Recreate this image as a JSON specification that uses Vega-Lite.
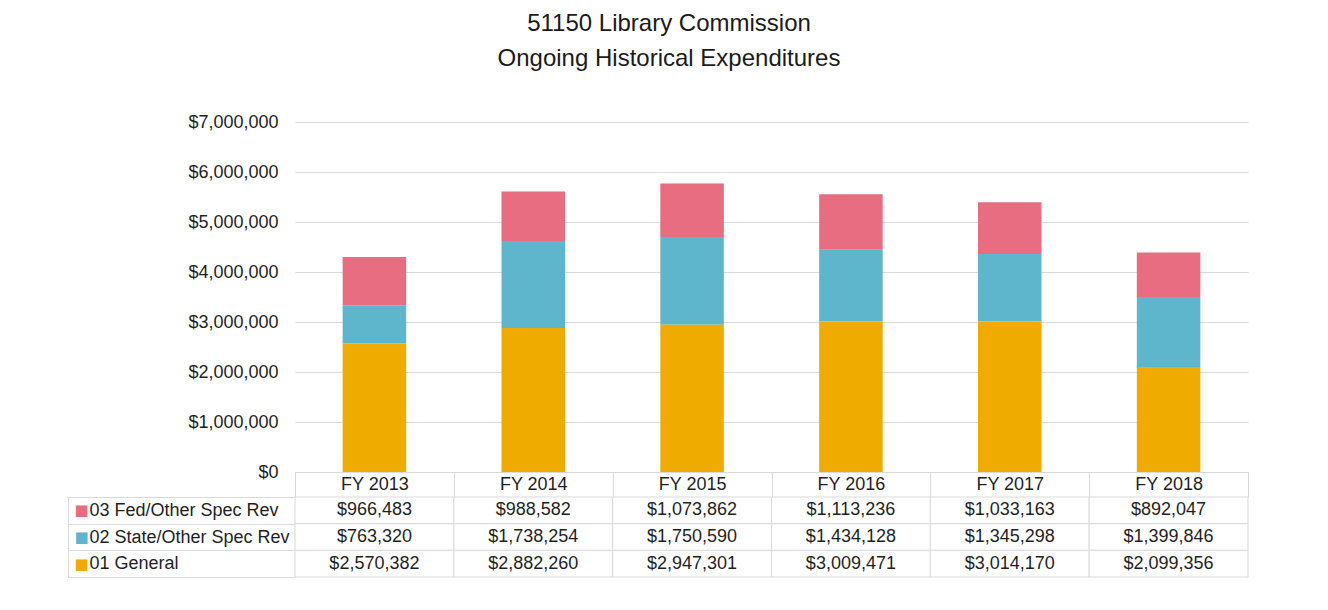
{
  "$schema": "https://vega.github.io/schema/vega-lite/v6.json",
  "background": "white",
  "padding": {"left": 67, "top": 12, "right": 5, "bottom": 5},
  "config": {
    "font": "Liberation Sans",
    "view": {"stroke": null},
    "axis": {"labelColor": "#1f1f1f", "labelFont": "Liberation Sans"}
  },
  "title": {
    "text": ["51150 Library Commission", "Ongoing Historical Expenditures"],
    "fontSize": 24,
    "fontWeight": "normal",
    "lineHeight": 35,
    "offset": 42,
    "dx": 11,
    "color": "#1a1a1a",
    "anchor": "middle"
  },
  "data": {
    "values": [
      {"year": "FY 2013", "series": "03 Fed/Other Spec Rev", "amount": 966483},
      {"year": "FY 2013", "series": "02 State/Other Spec Rev", "amount": 763320},
      {"year": "FY 2013", "series": "01 General", "amount": 2570382},
      {"year": "FY 2014", "series": "03 Fed/Other Spec Rev", "amount": 988582},
      {"year": "FY 2014", "series": "02 State/Other Spec Rev", "amount": 1738254},
      {"year": "FY 2014", "series": "01 General", "amount": 2882260},
      {"year": "FY 2015", "series": "03 Fed/Other Spec Rev", "amount": 1073862},
      {"year": "FY 2015", "series": "02 State/Other Spec Rev", "amount": 1750590},
      {"year": "FY 2015", "series": "01 General", "amount": 2947301},
      {"year": "FY 2016", "series": "03 Fed/Other Spec Rev", "amount": 1113236},
      {"year": "FY 2016", "series": "02 State/Other Spec Rev", "amount": 1434128},
      {"year": "FY 2016", "series": "01 General", "amount": 3009471},
      {"year": "FY 2017", "series": "03 Fed/Other Spec Rev", "amount": 1033163},
      {"year": "FY 2017", "series": "02 State/Other Spec Rev", "amount": 1345298},
      {"year": "FY 2017", "series": "01 General", "amount": 3014170},
      {"year": "FY 2018", "series": "03 Fed/Other Spec Rev", "amount": 892047},
      {"year": "FY 2018", "series": "02 State/Other Spec Rev", "amount": 1399846},
      {"year": "FY 2018", "series": "01 General", "amount": 2099356}
    ]
  },
  "spacing": 25,
  "bounds": "flush",
  "vconcat": [
    {
      "width": 953,
      "height": 350,
      "mark": {"type": "bar", "width": {"band": 0.4}},
      "encoding": {
        "x": {
          "field": "year",
          "type": "nominal",
          "scale": {"paddingInner": 0, "paddingOuter": 0},
          "axis": {
            "title": null,
            "labelAngle": 0,
            "tickBand": "extent",
            "tickSize": 25,
            "tickColor": "#d9d9d9",
            "domainColor": "#d9d9d9",
            "labelPadding": -12.5,
            "labelBaseline": "middle",
            "labelFontSize": 18
          }
        },
        "y": {
          "field": "amount",
          "type": "quantitative",
          "stack": "zero",
          "scale": {"domain": [0, 7000000]},
          "axis": {
            "title": null,
            "values": [0, 1000000, 2000000, 3000000, 4000000, 5000000, 6000000, 7000000],
            "format": "$,.0f",
            "grid": true,
            "gridColor": "#d9d9d9",
            "ticks": false,
            "domain": false,
            "labelPadding": 17,
            "labelFontSize": 18
          }
        },
        "color": {
          "field": "series",
          "type": "nominal",
          "scale": {
            "domain": ["01 General", "02 State/Other Spec Rev", "03 Fed/Other Spec Rev"],
            "range": ["#F0AB00", "#5EB6CD", "#E96D80"]
          },
          "legend": null
        },
        "order": {"field": "series", "type": "nominal", "sort": "ascending"}
      }
    },
    {
      "width": 953,
      "height": 80,
      "resolve": {"axis": {"y": "independent"}},
      "layer": [
        {
          "mark": {"type": "rect", "fill": "white", "stroke": "#d9d9d9", "strokeWidth": 1},
          "encoding": {
            "x": {
              "field": "year",
              "type": "nominal",
              "scale": {"paddingInner": 0, "paddingOuter": 0},
              "axis": null
            },
            "y": {
              "field": "series",
              "type": "nominal",
              "scale": {
                "domain": ["03 Fed/Other Spec Rev", "02 State/Other Spec Rev", "01 General"],
                "paddingInner": 0,
                "paddingOuter": 0
              },
              "axis": {
                "title": null,
                "orient": "left",
                "labelAlign": "left",
                "labelPadding": -21,
                "labelLimit": 0,
                "tickBand": "extent",
                "tickSize": 227,
                "tickColor": "#d9d9d9",
                "domain": false,
                "labelFontSize": 18
              }
            }
          }
        },
        {
          "mark": {"type": "text", "fontSize": 18, "color": "#1f1f1f"},
          "encoding": {
            "x": {"field": "year", "type": "nominal", "axis": null},
            "y": {
              "field": "series",
              "type": "nominal",
              "axis": {
                "title": null,
                "orient": "left",
                "offset": 227,
                "ticks": false,
                "domainColor": "#d9d9d9",
                "labelExpr": "'■'",
                "labelFont": "DejaVu Sans",
                "labelAlign": "left",
                "labelPadding": -6,
                "labelFontSize": 15,
                "labelColor": {
                  "condition": [
                    {"test": "datum.value == '01 General'", "value": "#F0AB00"},
                    {"test": "datum.value == '02 State/Other Spec Rev'", "value": "#5EB6CD"}
                  ],
                  "value": "#E96D80"
                }
              }
            },
            "text": {"field": "amount", "type": "quantitative", "format": "$,.0f"}
          }
        }
      ]
    }
  ]
}
